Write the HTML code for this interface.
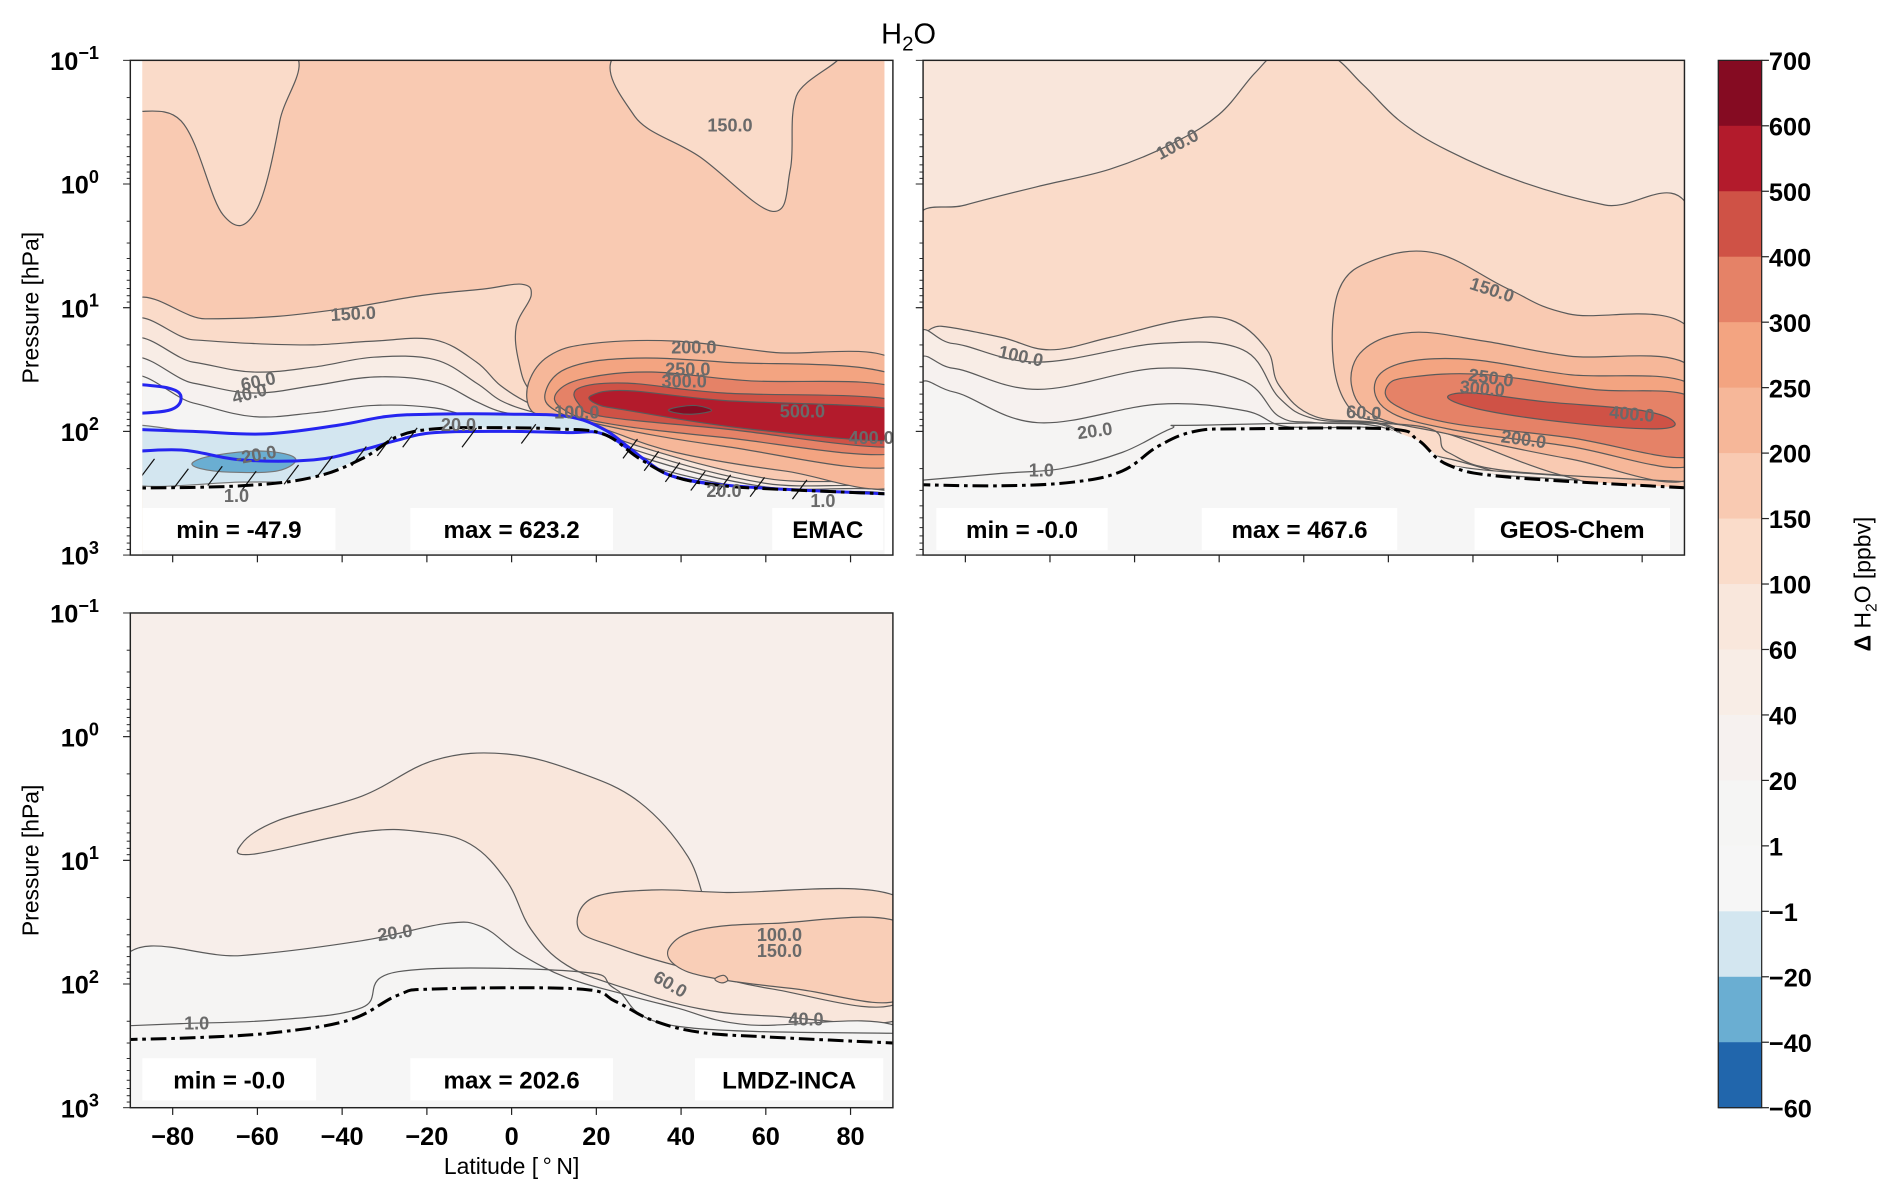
<!DOCTYPE html>
<html><head><meta charset="utf-8"><style>
html,body{margin:0;padding:0;background:#fff;}
svg{display:block;}
text{font-family:"Liberation Sans",sans-serif;}
</style></head><body>
<svg id="fig" xmlns="http://www.w3.org/2000/svg" width="1892" height="1197" viewBox="0 0 1568 992">
<defs>
<clipPath id="clip1"><rect x="118" y="50" width="615" height="410"/></clipPath>
<clipPath id="clip2"><rect x="765" y="50" width="631" height="410"/></clipPath>
<clipPath id="clip3"><rect x="108" y="508" width="632" height="410"/></clipPath>
</defs>
<text x="753" y="36" font-size="24" text-anchor="middle">H<tspan font-size="17" dy="6">2</tspan><tspan dy="-6">O</tspan></text>
<g id="p1" clip-path="url(#clip1)"></g>
<g id="p2" clip-path="url(#clip2)"></g>
<g id="p3" clip-path="url(#clip3)"></g>
<g id="overlay"></g>
</svg>
<script>
// ---- colour levels ----
const cbLevels = ["700","600","500","400","300","250","200","150","100","60","40","20","1","\u22121","\u221220","\u221240","\u221260"];
const cbColors = ["#850b22","#b31b2c","#cf5246","#e58267","#f3a481","#f6b799","#f9cab2","#fadcca","#f9e7dc","#f8ede6","#f6f1ef","#f5f5f4","#f6f6f6","#d3e6f0","#6aaed2","#2166ac"];

// ---- EMAC data (lat in deg, log10 pressure in hPa) ----
const emacTL_lat = [-92,-53,-54.7,-60.4,-68.1,-78,-92];
const emacTL_lp = [-1.1,-1.1,-0.51,0.22,0.25,-0.51,-0.63];
const emacTR_lat = [27.3,28.8,44.4,61.5,65.8,67.2,75.8];
const emacTR_lp = [-1.1,-0.56,-0.22,0.22,-0.12,-0.71,-1.1];
const emacD_lat = [-92,-72.3,-55.3,-38.2,-21.1,-6.8,2.3,4.6,1.1,1.7,4.6,13.1,38.7,64.4,92,92,-92];
const emacD_lp = [1.07,1.09,1.07,1.00,0.90,0.85,0.81,0.90,1.15,1.44,1.68,1.88,2.27,2.41,2.51,3.1,3.1];
const emacBandLat = [-92,-75.2,-61,-46.7,-32.5,-18.2,-8.3,-2.6,4.6,13.1,30,60,92,92,-92];
const emacC100_lp = [1.22,1.26,1.29,1.30,1.27,1.26,1.44,1.63,1.78,1.88,2.12,2.38,2.48,3.1,3.1];
const emacC60_lp = [1.36,1.44,1.52,1.48,1.40,1.42,1.61,1.75,1.84,1.90,2.16,2.42,2.50,3.1,3.1];
const emacC40_lp = [1.50,1.61,1.69,1.63,1.56,1.60,1.76,1.84,1.88,1.92,2.20,2.45,2.52,3.1,3.1];
const emacC20_lp = [1.63,1.77,1.88,1.85,1.79,1.81,1.90,1.93,1.94,1.94,2.25,2.48,2.54,3.1,3.1];
const emac200_lat = [4.6,4.0,8.8,18.8,38.7,61.5,92,92,64.4,38.7,21.6,10.3];
const emac200_lp = [1.83,1.61,1.39,1.29,1.27,1.36,1.46,2.41,2.32,2.17,1.98,1.88];
const emac250_lat = [8,13.1,27.3,50.1,92,92,50.1,21.6,10.3];
const emac250_lp = [1.68,1.49,1.41,1.44,1.57,2.27,2.12,1.95,1.83];
const emac300_lat = [10.8,17.4,33,55.8,92,92,50.1,21.6,11.7];
const emac300_lp = [1.68,1.57,1.52,1.59,1.66,2.17,2.05,1.93,1.81];
const emac400_lat = [15.9,27.3,50.1,92,92,50.1,21.6,15.9];
const emac400_lp = [1.65,1.61,1.69,1.76,2.12,1.98,1.88,1.78];
const emac500_lat = [18.8,27.3,50.1,92,92,55.8,27.3,20.2];
const emac500_lp = [1.71,1.67,1.75,1.83,2.07,1.98,1.83,1.78];
const emac600_lat = [37.3,43,47.2,43,38.7];
const emac600_lp = [1.82,1.79,1.83,1.86,1.85];
const emacBlue_lat = [-92,-75.2,-58.1,-41,-29.6,-18.2,-1.1,13.1,21.6,27.3,33,38.7,50.1,38.7,30.2,21.6,10.3,-6.8,-18.2,-26.8,-35.3,-46.7,-63.8,-92];
const emacBlue_lp = [1.98,2.00,2.02,1.95,1.88,1.86,1.86,1.88,1.98,2.12,2.27,2.37,2.44,2.41,2.27,2.07,2.02,2.00,2.02,2.10,2.27,2.39,2.41,2.41];
const emacMid_lat = [-75.2,-69.5,-58.1,-51,-55.3,-66.4,-73.5];
const emacMid_lp = [2.25,2.19,2.16,2.22,2.32,2.33,2.30];
const emacBlueLine2_lat = [-92,-78,-63.8,-46.7,-35.3,-26.8,-18.2,-1.1,13.1,21.6,30.2,38.7,55.8,92];
const emacBlueLine2_lp = [2.17,2.15,2.23,2.23,2.15,2.07,2.01,2.00,2.01,2.02,2.20,2.37,2.45,2.51];
const emacLoop_lat = [-92,-81,-78,-81,-92];
const emacLoop_lp = [1.61,1.65,1.73,1.83,1.86];
const emacTrop_lat = [-92,-63.8,-46.7,-35.3,-26.8,-18.2,-6.8,10.3,21.6,30.2,38.7,50.1,64.4,92];
const emacTrop_lp = [2.46,2.44,2.37,2.22,2.04,1.98,1.97,1.98,2.02,2.22,2.37,2.44,2.47,2.51];
const emacHatch_lat = [-86,-78,-70,-62,-52,-44,-36,-30,-24,-10,4,28,33,38,44,50,58,68];
const emacHatch_lp = [2.30,2.38,2.36,2.40,2.35,2.28,2.20,2.12,2.05,2.05,2.02,2.14,2.24,2.33,2.40,2.43,2.45,2.47];

// ---- GEOS-Chem data ----
const geosR100_lat = [-92,-80,-62.9,-45.8,-31.5,-20.1,-11.5,-5.8,5.6,14.1,22.7,34.1,51.2,71.2,92,92,34.1,19.8,2.7,-5.8,-8.7,-17.2,-28.7,-45.8,-60,-71.5,-85.7,-92];
const geosR100_lp = [0.30,0.17,0.02,-0.12,-0.32,-0.56,-0.90,-1.05,-1.05,-0.80,-0.51,-0.27,-0.02,0.17,0.27,2.46,2.22,1.95,1.88,1.63,1.34,1.10,1.10,1.24,1.34,1.24,1.15,1.17];
const geosBandLat = [-92,-82.9,-62.9,-34.4,-14.4,-5.8,2.7,19.8,34.1,92,92,-92];
const geosC60_lp = [1.34,1.29,1.44,1.29,1.34,1.73,1.90,1.96,2.27,2.50,3.1,3.1];
const geosC40_lp = [1.54,1.49,1.66,1.49,1.59,1.88,1.93,1.98,2.30,2.52,3.1,3.1];
const geosC20_lp = [1.73,1.68,1.93,1.78,1.83,1.95,1.97,2.00,2.33,2.54,3.1,3.1];
const geos150_lat = [11.3,7,8.4,17,31.3,48.4,62.6,92,92,62.6,34.1,19.8];
const geos150_lp = [1.83,1.44,0.85,0.61,0.56,0.85,1.05,1.20,2.51,2.37,2.02,1.93];
const geos200_lat = [17,11.3,14.1,25.5,42.7,62.6,92,92,62.6,34.1];
const geos200_lp = [1.88,1.63,1.34,1.20,1.27,1.39,1.49,2.37,2.22,2.02];
const geos250_lat = [19.8,17,24.1,39.8,62.6,92,92,62.6,34.1];
const geos250_lp = [1.83,1.59,1.44,1.42,1.54,1.63,2.27,2.12,1.98];
const geos300_lat = [21.3,19.8,25.5,42.7,68.3,92,92,62.6,34.1];
const geos300_lp = [1.78,1.63,1.56,1.54,1.66,1.73,2.20,2.05,1.93];
const geos400_lat = [34.1,39.8,56.9,79.8,87.7,82.6,62.6,42.7];
const geos400_lp = [1.73,1.69,1.76,1.83,1.93,1.98,1.93,1.83];
const geosC1_lat = [-92,-71.5,-57.2,-42.9,-31.5,-25.8,25.5,34.1,48.4,92];
const geosC1_lp = [2.40,2.34,2.30,2.17,1.98,1.95,1.95,2.17,2.32,2.41];
const geosTrop_lat = [-92,-71.5,-54.4,-42.9,-34.4,-25.8,-14.4,19.8,27,34.1,48.4,92];
const geosTrop_lp = [2.43,2.44,2.41,2.32,2.12,2.00,1.98,1.98,2.07,2.27,2.37,2.46];

// ---- LMDZ-INCA data ----
const lmdzR40_lat = [-63.8,-55.3,-35.3,-18.2,-1.1,15.9,30.2,41.6,47.3,55.8,78.6,92,92,61.5,44.4,27.3,13.1,4.6,-1.1,-9.7,-21.1,-35.3,-61];
const lmdzR40_lp = [0.87,0.68,0.48,0.19,0.14,0.29,0.53,0.97,1.46,1.70,1.75,1.75,2.28,2.26,2.20,2.04,1.85,1.56,1.17,0.87,0.77,0.77,0.95];
const lmdzR60_lat = [15.9,18.8,33,50.1,92,92,61.5,38.7,24.5];
const lmdzR60_lp = [1.56,1.31,1.24,1.26,1.31,2.14,2.04,1.85,1.70];
const lmdzR100_lat = [37.3,44.4,61.5,92,92,67.2,47.3,38.7];
const lmdzR100_lp = [1.70,1.56,1.51,1.51,2.12,2.04,1.95,1.85];
const lmdzR150_lat = [48,50,51,49.5];
const lmdzR150_lp = [1.96,1.93,1.97,1.99];
const lmdzC20_lat = [-92,-63.8,-35.3,-15.4,-6.8,1.7,13.1,27.3,38.7,55.8,92,92,-92];
const lmdzC20_lp = [1.80,1.77,1.65,1.51,1.54,1.75,1.95,2.09,2.19,2.33,2.36,3.1,3.1];
const lmdzC1_lat = [-92,-78,-55.3,-35.3,-26.8,15.9,24.5,38.7,92];
const lmdzC1_lp = [2.34,2.32,2.29,2.19,1.90,1.90,2.04,2.34,2.40];
const lmdzTrop_lat = [-92,-72.3,-55.3,-38.2,-26.8,-18.2,15.9,24.5,33,44.4,61.5,92];
const lmdzTrop_lp = [2.45,2.43,2.39,2.29,2.09,2.04,2.04,2.14,2.29,2.39,2.43,2.48];

const xTicks = [-80,-60,-40,-20,0,20,40,60,80];
const yTickExp = [-1,0,1,2,3];

const NS = "http://www.w3.org/2000/svg";
const panels = {
  p1:{x0:108,y0:50,w:632,h:410},
  p2:{x0:765,y0:50,w:631,h:410},
  p3:{x0:108,y0:508,w:632,h:410}
};
function xs(P,lat){return P.x0 + (lat+90)/180*P.w;}
function ys(P,lp){return P.y0 + (lp+1)/4*P.h;}
function mk(tag,parent){const e=document.createElementNS(NS,tag);parent.appendChild(e);return e;}
function smoothPath(P,lats,lps,closed){
  const p=lats.map((a,i)=>[xs(P,a),ys(P,lps[i])]);
  const n=p.length;let d="M"+p[0][0].toFixed(1)+","+p[0][1].toFixed(1);
  const get=i=>closed?p[(i+n)%n]:p[Math.max(0,Math.min(n-1,i))];
  const segs=closed?n:n-1;
  for(let i=0;i<segs;i++){
    const p0=get(i-1),p1=get(i),p2=get(i+1),p3=get(i+2);
    const t=0.18;
    const c1=[p1[0]+(p2[0]-p0[0])*t,p1[1]+(p2[1]-p0[1])*t];
    const c2=[p2[0]-(p3[0]-p1[0])*t,p2[1]-(p3[1]-p1[1])*t];
    d+=" C"+c1[0].toFixed(1)+","+c1[1].toFixed(1)+" "+c2[0].toFixed(1)+","+c2[1].toFixed(1)+" "+p2[0].toFixed(1)+","+p2[1].toFixed(1);
  }
  if(closed)d+="Z";
  return d;
}
function region(id,lats,lps,fill,name,stroke){
  const P=panels[id];const g=document.getElementById(id);
  const e=mk("path",g);
  e.setAttribute("d",smoothPath(P,lats,lps,true));
  e.setAttribute("fill",fill);
  e.setAttribute("stroke",stroke||"#5a5a5a");
  e.setAttribute("stroke-width","1");
  e.setAttribute("stroke-linejoin","round");
  
  
  return e;
}
function line(id,lats,lps,stroke,width,dash,name){
  const P=panels[id];const g=document.getElementById(id);
  const e=mk("path",g);
  e.setAttribute("d",smoothPath(P,lats,lps,false));
  e.setAttribute("fill","none");
  e.setAttribute("stroke",stroke);
  e.setAttribute("stroke-width",width);
  e.setAttribute("stroke-linejoin","round");
  if(dash)e.setAttribute("stroke-dasharray",dash);
  
  
  return e;
}
function bg(id,fill){
  const P=panels[id];const g=document.getElementById(id);
  const r=mk("rect",g);
  r.setAttribute("x",P.x0);r.setAttribute("y",P.y0);r.setAttribute("width",P.w);r.setAttribute("height",P.h);r.setAttribute("fill",fill);
  
  
}
function below(id,lats,lps,fill,name){
  const a=lats.concat([92,-92]);const b=lps.concat([3.1,3.1]);
  const P=panels[id];const g=document.getElementById(id);
  const e=mk("polygon",g);
  e.setAttribute("points",a.map((v,i)=>xs(P,v).toFixed(1)+","+ys(P,b[i]).toFixed(1)).join(" "));
  e.setAttribute("fill",fill);
  
  
  return e;
}
const C={n60:cbColors[15],n40:cbColors[14],n20:cbColors[13],z:cbColors[12],c1:"#f5f4f3",c20:"#f6f1ef",c40:"#f8ede6",c60:"#f9e6db",c100:"#fadbc9",c150:"#f9cab2",c200:"#f6b799",c250:"#f3a481",c300:"#e58267",c400:"#cf5246",c500:"#b31b2c",c600:"#850b22"};

// EMAC
bg("p1",C.c150);
region("p1",emacTL_lat,emacTL_lp,C.c100,"emac-region-100-top-left");
region("p1",emacTR_lat,emacTR_lp,C.c100,"emac-region-100-top-right");
region("p1",emacD_lat,emacD_lp,C.c100,"emac-region-100-lower");
region("p1",emacBandLat,emacC100_lp,C.c60,"emac-band-60");
region("p1",emacBandLat,emacC60_lp,C.c40,"emac-band-40");
region("p1",emacBandLat,emacC40_lp,C.c20,"emac-band-20");
region("p1",emacBandLat,emacC20_lp,C.c1,"emac-band-1");
region("p1",emac200_lat,emac200_lp,C.c200,"emac-region-200");
region("p1",emac250_lat,emac250_lp,C.c250,"emac-region-250");
region("p1",emac300_lat,emac300_lp,C.c300,"emac-region-300");
region("p1",emac400_lat,emac400_lp,C.c400,"emac-region-400");
region("p1",emac500_lat,emac500_lp,C.c500,"emac-region-500");
region("p1",emac600_lat,emac600_lp,C.c600,"emac-region-600");
region("p1",emacBlue_lat,emacBlue_lp,C.n20,"emac-negative-region","#777");
below("p1",emacTrop_lat,emacTrop_lp,C.z,"emac-surface-region");
region("p1",emacMid_lat,emacMid_lp,C.n40,"emac-negative-core","#777");
line("p1",emacBlue_lat.slice(0,13),emacBlue_lp.slice(0,13),"#2525f0",2.5,null,"emac-blue-contour-upper");
line("p1",emacBlueLine2_lat,emacBlueLine2_lp,"#2525f0",2.5,null,"emac-blue-contour-lower");
line("p1",emacLoop_lat,emacLoop_lp,"#2525f0",2.5,null,"emac-blue-contour-loop");
(function(){
  const P=panels.p1;const g=document.getElementById("p1");
  emacHatch_lat.forEach((a,i)=>{
    const x=xs(P,a),y=ys(P,emacHatch_lp[i]);
    const l=mk("line",g);
    l.setAttribute("x1",x-6);l.setAttribute("y1",y+8);l.setAttribute("x2",x+6);l.setAttribute("y2",y-8);
    l.setAttribute("stroke","#111");l.setAttribute("stroke-width","1");
    
    
  });
})();
line("p1",emacTrop_lat,emacTrop_lp,"#000",2.5,"13 4 3 4","emac-tropopause");

// GEOS-Chem
bg("p2",C.c60);
region("p2",geosR100_lat,geosR100_lp,C.c100,"geos-region-100");
region("p2",geosBandLat,geosC60_lp,C.c40,"geos-band-40");
region("p2",geosBandLat,geosC40_lp,C.c20,"geos-band-20");
region("p2",geosBandLat,geosC20_lp,C.c1,"geos-band-1");
region("p2",geos150_lat,geos150_lp,C.c150,"geos-region-150");
region("p2",geos200_lat,geos200_lp,C.c200,"geos-region-200");
region("p2",geos250_lat,geos250_lp,C.c250,"geos-region-250");
region("p2",geos300_lat,geos300_lp,C.c300,"geos-region-300");
region("p2",geos400_lat,geos400_lp,C.c400,"geos-region-400");
below("p2",geosTrop_lat,geosTrop_lp,C.z,"geos-surface-region");
line("p2",geosC1_lat,geosC1_lp,"#5a5a5a",1,null,"geos-contour-1");
line("p2",geosTrop_lat,geosTrop_lp,"#000",2.5,"13 4 3 4","geos-tropopause");

// LMDZ-INCA
bg("p3","#f7eeea");
region("p3",lmdzR40_lat,lmdzR40_lp,C.c60,"lmdz-region-40");
region("p3",lmdzR60_lat,lmdzR60_lp,C.c100,"lmdz-region-60");
region("p3",lmdzR100_lat,lmdzR100_lp,"#f9ceb7","lmdz-region-100");
region("p3",lmdzR150_lat,lmdzR150_lp,C.c150,"lmdz-region-150");
region("p3",lmdzC20_lat,lmdzC20_lp,C.c1,"lmdz-band-1");
below("p3",lmdzTrop_lat,lmdzTrop_lp,C.z,"lmdz-surface-region");
line("p3",lmdzC1_lat,lmdzC1_lp,"#5a5a5a",1,null,"lmdz-contour-1");
line("p3",lmdzTrop_lat,lmdzTrop_lp,"#000",2.5,"13 4 3 4","lmdz-tropopause");

// ---- overlay: contour labels, boxes, axes ----
const ov=document.getElementById("overlay");
function txt(x,y,s,size,opts){
  opts=opts||{};
  const t=mk("text",ov);
  t.setAttribute("x",x);t.setAttribute("y",y);
  t.setAttribute("font-size",size);
  if(opts.bold)t.setAttribute("font-weight","bold");
  if(opts.anchor)t.setAttribute("text-anchor",opts.anchor);
  if(opts.fill)t.setAttribute("fill",opts.fill);
  if(opts.rot)t.setAttribute("transform","rotate("+opts.rot+" "+x+" "+y+")");
  t.textContent=s;
  
  
  return t;
}
const cl=[
 [605,109,"150.0",0],[293,265,"150.0",-3],[215,321,"60.0",-12],[208,331,"40.0",-15],[575,293,"200.0",0],[570,311,"250.0",0],[567,321,"300.0",0],[478,347,"100.0",0],[665,346,"500.0",0],[722,368,"400.0",0],[213,382,"-20.0",-10],[380,357,"20.0",0],[196,416,"1.0",0],[600,412,"20.0",0],[682,420,"1.0",0],
 [978,124,"100.0",-28],[845,300,"100.0",12],[1235,245,"150.0",18],[1235,318,"250.0",8],[1228,327,"300.0",5],[1130,347,"60.0",3],[908,362,"20.0",-8],[863,395,"1.0",0],[1352,348,"400.0",5],[1262,369,"200.0",8],
 [328,778,"20.0",-8],[163,853,"1.0",0],[646,780,"100.0",0],[646,793,"150.0",0],[553,820,"60.0",30],[668,850,"40.0",0]
];
cl.forEach(c=>{txt(c[0],c[1],c[2],15,{bold:true,anchor:"middle",fill:"#6a6a6a",rot:c[3],name:"contour-label"});});

function box(x,y,w,h,s,name){
  const r=mk("rect",ov);r.setAttribute("x",x);r.setAttribute("y",y);r.setAttribute("width",w);r.setAttribute("height",h);r.setAttribute("fill","#fff");
  
  
  txt(x+w/2,y+h-10,s,20,{bold:true,anchor:"middle",name:name});
}
box(118,421,160,35,"min = -47.9","emac-min");
box(340,421,168,35,"max = 623.2","emac-max");
box(640,421,92,35,"EMAC","emac-model-name");
box(776,421,142,35,"min = -0.0","geos-min");
box(996,421,162,35,"max = 467.6","geos-max");
box(1222,421,162,35,"GEOS-Chem","geos-model-name");
box(118,877,144,35,"min = -0.0","lmdz-min");
box(340,877,168,35,"max = 202.6","lmdz-max");
box(576,877,156,35,"LMDZ-INCA","lmdz-model-name");

// frames, ticks
["p1","p2","p3"].forEach(id=>{
  const P=panels[id];
  const r=mk("rect",ov);r.setAttribute("x",P.x0);r.setAttribute("y",P.y0);r.setAttribute("width",P.w);r.setAttribute("height",P.h);
  r.setAttribute("fill","none");r.setAttribute("stroke","#222");r.setAttribute("stroke-width","1.2");
  
  
  xTicks.forEach(v=>{
    const l=mk("line",ov);const x=xs(P,v);
    l.setAttribute("x1",x);l.setAttribute("x2",x);l.setAttribute("y1",P.y0+P.h);l.setAttribute("y2",P.y0+P.h+6);l.setAttribute("stroke","#222");
    
    
  });
  for(let d=-1;d<3;d++){
    for(let m=1;m<=10;m++){
      const lp=d+Math.log10(m);const y=ys(P,lp);
      const l=mk("line",ov);
      l.setAttribute("x1",P.x0);l.setAttribute("x2",P.x0-(m===1||m===10?6:3));l.setAttribute("y1",y);l.setAttribute("y2",y);l.setAttribute("stroke","#222");l.setAttribute("stroke-width","0.8");
      
      
    }
  }
  if(id!=="p2"){
    yTickExp.forEach(e=>{
      const y=ys(P,e);
      const t=txt(P.x0-26,y+8,"10",21,{bold:true,anchor:"end",name:"y-tick-label"});
      const s=mk("tspan",t);s.setAttribute("font-size","15");s.setAttribute("dy","-9");s.textContent=(e<0?"\u2212":"")+Math.abs(e);
    });
    txt(32,P.y0+P.h/2,"Pressure [hPa]",19,{anchor:"middle",rot:-90,name:"y-axis-title"});
  }
});
const P3=panels.p3;
xTicks.forEach(v=>{txt(xs(P3,v),949,(v<0?"\u2212":"")+Math.abs(v),21,{bold:true,anchor:"middle",name:"x-tick-label"});});
txt(424,973,"Latitude [\u2009\u00b0\u2009N]",19,{anchor:"middle",name:"x-axis-title"});

// colorbar
const cbx=1424,cby=50,cbw=36,cbh=868,seg=cbh/cbColors.length;
cbColors.forEach((c,i)=>{
  const r=mk("rect",ov);r.setAttribute("x",cbx);r.setAttribute("y",cby+i*seg);r.setAttribute("width",cbw);r.setAttribute("height",seg+0.5);r.setAttribute("fill",c);
  
  
});
const cf=mk("rect",ov);cf.setAttribute("x",cbx);cf.setAttribute("y",cby);cf.setAttribute("width",cbw);cf.setAttribute("height",cbh);cf.setAttribute("fill","none");cf.setAttribute("stroke","#222");


cbLevels.forEach((s,i)=>{
  const y=cby+i*seg;
  const l=mk("line",ov);l.setAttribute("x1",cbx+cbw);l.setAttribute("x2",cbx+cbw+6);l.setAttribute("y1",y);l.setAttribute("y2",y);l.setAttribute("stroke","#222");
  
  
  txt(1466,y+8,s,21,{bold:true,name:"colorbar-tick-label"});
});
const ct=txt(1550,484,"",19,{anchor:"middle",rot:-90,name:"colorbar-title"});
const t1=mk("tspan",ct);t1.setAttribute("font-weight","bold");t1.textContent="\u0394 ";
const t2=mk("tspan",ct);t2.textContent="H";
const t3=mk("tspan",ct);t3.setAttribute("font-size","13");t3.setAttribute("dy","5");t3.textContent="2";
const t4=mk("tspan",ct);t4.setAttribute("dy","-5");t4.textContent="O  [ppbv]";
</script>
</body></html>
